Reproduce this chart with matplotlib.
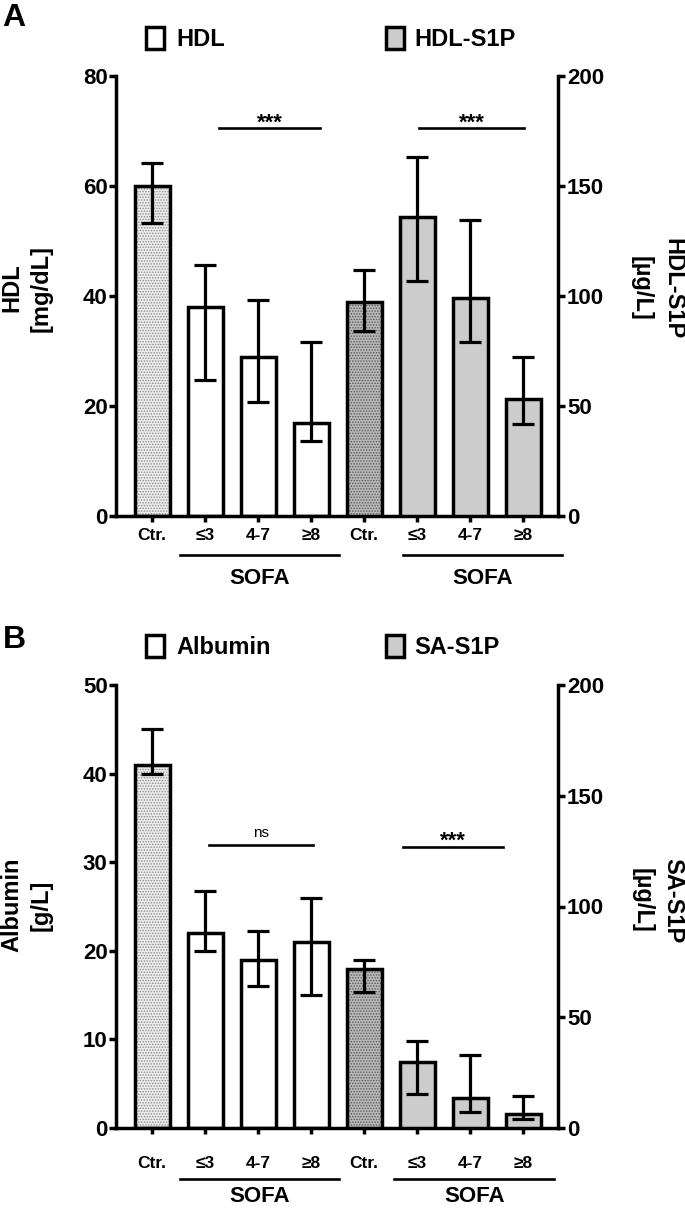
import matplotlib
matplotlib.use('Agg')
import matplotlib.pyplot as plt
import matplotlib.transforms as mtransforms
from matplotlib.patches import Rectangle
import numpy as np

plt.rcParams['font.family'] = ['Liberation Sans', 'DejaVu Sans']
plt.rcParams['font.weight'] = 'bold'
plt.rcParams['hatch.linewidth'] = 0.7

groups = ['Ctr.', '≤3', '4-7', '≥8']

# panel A - median with lower / upper whisker ends
hdl_med = [60, 38, 29, 17]
hdl_lo = [53.3, 24.7, 20.7, 13.6]
hdl_hi = [64.2, 45.6, 39.3, 31.7]
hdl_s1p_med = [97.5, 136, 99, 53]
hdl_s1p_lo = [84, 107, 79, 42]
hdl_s1p_hi = [112, 163, 134.5, 72.5]

# panel B
alb_med = [41, 22, 19, 21]
alb_lo = [40, 20, 16, 15]
alb_hi = [45, 26.8, 22.2, 26]
sa_s1p_med = [72, 30, 13.7, 6.3]
sa_s1p_lo = [61.5, 15.5, 7, 4]
sa_s1p_hi = [76, 39.5, 33, 14.4]

W, H = 685, 1209
LW = 2.5


def fx(x):
    return x / W


def fy(y):
    return 1 - y / H


def draw_bars(ax, xs, med, lo, hi, faces, hatches, hatch_cols):
    med = np.asarray(med, float)
    err = [med - np.asarray(lo), np.asarray(hi) - med]
    for x, m, fc, h, hc in zip(xs, med, faces, hatches, hatch_cols):
        ax.bar(x, m, width=0.66, color=fc, edgecolor=hc, hatch=h, linewidth=0, zorder=2)
        ax.bar(x, m, width=0.66, facecolor='none', edgecolor='black', linewidth=LW, zorder=3)
    ax.errorbar(xs, med, yerr=err, fmt='none', ecolor='black', elinewidth=2.3,
                capsize=8, capthick=2.3, zorder=4)


def panel(top, bottom, left_data, right_data, lylim, lticks, rticks, xpad,
          sig, sofa_lines, sofa_off):
    hpx = bottom - top
    ax = fig.add_axes([fx(116), fy(bottom), 442 / W, hpx / H])
    ax2 = ax.twinx()
    xs = np.arange(8)
    draw_bars(ax, xs[:4], *left_data,
              faces=['#ececec', 'white', 'white', 'white'],
              hatches=['......', None, None, None],
              hatch_cols=['#8c8c8c', 'black', 'black', 'black'])
    draw_bars(ax2, xs[4:], *right_data,
              faces=['#b8b8b8', '#cccccc', '#cccccc', '#cccccc'],
              hatches=['......', None, None, None],
              hatch_cols=['#5a5a5a', 'black', 'black', 'black'])
    ax.set_xlim(-0.68, 7.66)
    ax.set_ylim(*lylim)
    ax.set_yticks(lticks)
    ax2.set_ylim(0, 200)
    ax2.set_yticks(rticks)
    ax.set_xticks(xs)
    ax.set_xticklabels(groups * 2)
    for a in (ax, ax2):
        for s in a.spines.values():
            s.set_linewidth(LW)
        a.spines['top'].set_visible(False)
    ax.spines['right'].set_visible(False)
    ax2.spines['left'].set_visible(False)
    ax2.spines['bottom'].set_visible(False)
    ax.tick_params(axis='y', length=5, width=LW, pad=1, labelsize=16)
    ax2.tick_params(axis='y', length=5, width=LW, pad=1.5, labelsize=16)
    ax.tick_params(axis='x', length=4, width=LW, pad=xpad, labelsize=12.5)

    trans = mtransforms.blended_transform_factory(ax.transData, ax.transAxes)
    for x0, x1 in sofa_lines:
        yl = -sofa_off[0] / hpx
        ax.plot([x0, x1], [yl, yl], color='black', lw=1.9, transform=trans, clip_on=False)
        ax.text((x0 + x1) / 2, -sofa_off[1] / hpx, 'SOFA', transform=trans,
                ha='center', va='center', fontsize=16)

    for x0, x1, yv, label in sig:
        ax.plot([x0, x1], [yv, yv], color='black', lw=1.9, zorder=5)
        if label == 'ns':
            ax.annotate(label, ((x0 + x1) / 2, yv), xytext=(0, 6), textcoords='offset points',
                        ha='center', va='baseline', fontsize=11, fontweight='normal')
        else:
            ax.annotate(label, ((x0 + x1) / 2, yv), xytext=(0, 0), textcoords='offset points',
                        ha='center', va='baseline', fontsize=16)
    return ax, ax2


fig = plt.figure(figsize=(W / 100, H / 100), dpi=100)

# ---------- panel A ----------
panel(76, 516,
      (hdl_med, hdl_lo, hdl_hi), (hdl_s1p_med, hdl_s1p_lo, hdl_s1p_hi),
      (0, 80), [0, 20, 40, 60, 80], [0, 50, 100, 150, 200], 5,
      [(1.26, 3.17, 70.5, '***'), (5.04, 7.02, 70.5, '***')],
      [(0.53, 3.53), (4.74, 7.74)], (39, 62))

# ---------- panel B ----------
panel(685, 1128,
      (alb_med, alb_lo, alb_hi), (sa_s1p_med, sa_s1p_lo, sa_s1p_hi),
      (0, 50), [0, 10, 20, 30, 40, 50], [0, 50, 100, 150, 200], 16,
      [(1.07, 3.04, 31.9, 'ns'), (4.74, 6.62, 31.7, '***')],
      [(0.53, 3.53), (4.57, 7.59)], (51, 68))

# panel letters
fig.text(fx(14), fy(18), 'A', fontsize=23, ha='center', va='center')
fig.text(fx(14), fy(640), 'B', fontsize=23, ha='center', va='center')

# legends
for yc, names in [(38, ('HDL', 'HDL-S1P')), (646, ('Albumin', 'SA-S1P'))]:
    for (x0, fc, tx), name in zip([(146, 'white', 176), (386, '#cccccc', 414)], names):
        fig.patches.append(Rectangle((fx(x0), fy(yc + 11)), 18 / W, 22 / H, facecolor=fc,
                                     edgecolor='black', linewidth=LW, transform=fig.transFigure))
        fig.text(fx(tx), fy(yc + 1), name, fontsize=17, ha='left', va='center')

# axis titles
lab = dict(fontsize=17, ha='center', va='center')
fig.text(fx(12), fy(288), 'HDL', rotation=90, **lab)
fig.text(fx(41), fy(288), '[mg/dL]', rotation=90, **lab)
fig.text(fx(673), fy(289), 'HDL-S1P', rotation=270, **lab)
fig.text(fx(641), fy(288), '[µg/L]', rotation=270, **lab)
fig.text(fx(12), fy(905), 'Albumin', rotation=90, **lab)
fig.text(fx(41), fy(905), '[g/L]', rotation=90, **lab)
fig.text(fx(673), fy(901), 'SA-S1P', rotation=270, **lab)
fig.text(fx(642), fy(900), '[µg/L]', rotation=270, **lab)

fig.savefig('out.png', dpi=100)
